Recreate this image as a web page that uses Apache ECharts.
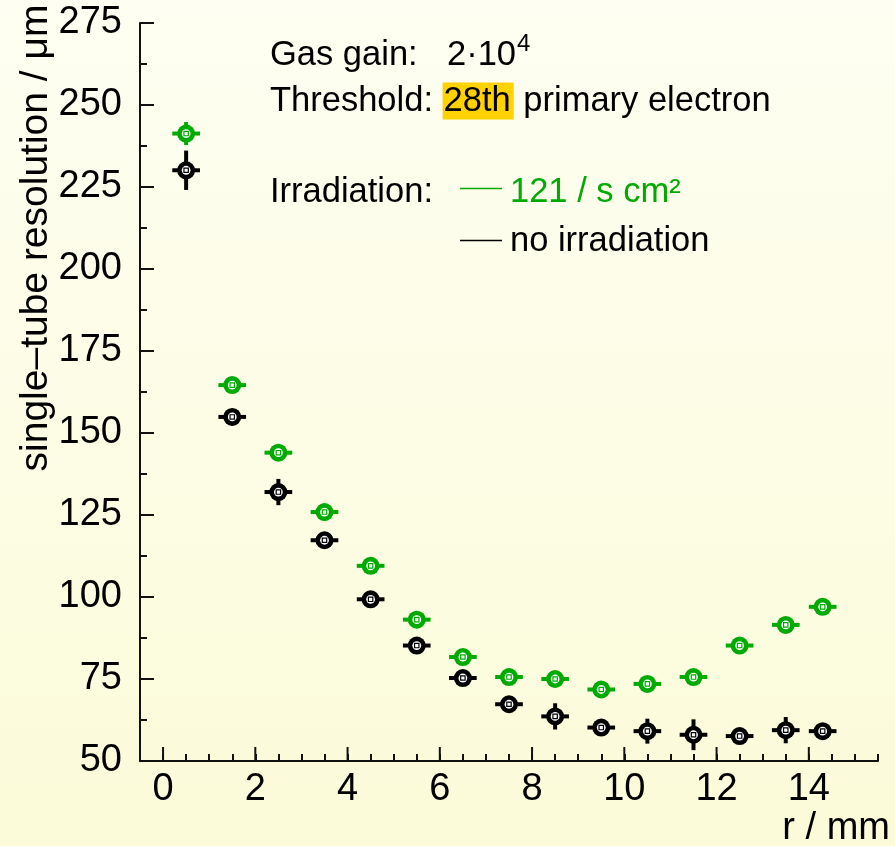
<!DOCTYPE html>
<html>
<head>
<meta charset="utf-8">
<script src="https://cdn.jsdelivr.net/npm/echarts@6/dist/echarts.min.js"></script>
<style>
  html, body { margin: 0; padding: 0; }
  #chart { width: 895px; height: 846px; }
</style>
</head>
<body>
<div id="chart"></div>
<script>
// Drift radius bins (mm)
const radius = [0.5, 1.5, 2.5, 3.5, 4.5, 5.5, 6.5, 7.5, 8.5, 9.5, 10.5, 11.5, 12.5, 13.5, 14.3];
// Half-width of each radius bin (mm)
const radiusErr = 0.3;

// Single-tube resolution (µm) with irradiation 121 / s cm²
const resIrradiated = [241.3, 164.6, 144.0, 125.9, 109.5, 93.1, 81.7, 75.6, 75.0, 71.8, 73.5, 75.6, 85.2, 91.5, 97.0];
const resIrradiatedErr = [3.5, 1.5, 1.5, 1.5, 1.5, 1.5, 1.5, 1.5, 1.5, 1.5, 1.5, 1.5, 1.5, 1.5, 1.5];

// Single-tube resolution (µm) without irradiation
const resPlain = [230.1, 154.9, 132.0, 117.3, 99.3, 85.2, 75.3, 67.3, 63.6, 60.2, 59.1, 58.0, 57.6, 59.4, 59.1];
const resPlainErr = [6.0, 2.0, 4.0, 2.0, 1.5, 1.5, 1.5, 1.5, 4.0, 2.5, 3.8, 4.7, 2.0, 4.0, 2.0];

// Labelled (major) ticks on the radius axis
const xMajorTicks = [0, 2, 4, 6, 8, 10, 12, 14];

const GREEN = '#00aa00';
const BLACK = '#000000';
const FONT = '"Liberation Sans", Arial, Helvetica, sans-serif';

function toRows(ys, errs) {
  return radius.map((r, i) => [r, ys[i], errs[i], radiusErr]);
}

// Error cross plus a ring marker with a small square in its centre
function errorMarker(color) {
  return function (params, api) {
    const x = api.value(0), y = api.value(1), ey = api.value(2), ex = api.value(3);
    const c = api.coord([x, y]);
    const l = api.coord([x - ex, y]);
    const r = api.coord([x + ex, y]);
    const t = api.coord([x, y + ey]);
    const b = api.coord([x, y - ey]);
    return {
      type: 'group',
      children: [
        { type: 'line', shape: { x1: l[0], y1: c[1], x2: r[0], y2: c[1] }, style: { stroke: color, lineWidth: 4 } },
        { type: 'line', shape: { x1: c[0], y1: t[1], x2: c[0], y2: b[1] }, style: { stroke: color, lineWidth: 4 } },
        { type: 'circle', shape: { cx: c[0], cy: c[1], r: 9 }, style: { fill: color } },
        { type: 'circle', shape: { cx: c[0], cy: c[1], r: 4.4 }, style: { fill: '#ffffff' } },
        { type: 'rect', shape: { x: c[0] - 2.2, y: c[1] - 2.2, width: 4.4, height: 4.4 }, style: { fill: '#ffffff', stroke: color, lineWidth: 1.2 } }
      ]
    };
  };
}

const chart = echarts.init(document.getElementById('chart'), null, { renderer: 'canvas' });

chart.setOption({
  animation: false,
  backgroundColor: {
    type: 'linear', x: 0, y: 0, x2: 0, y2: 1,
    colorStops: [{ offset: 0, color: '#fefef2' }, { offset: 1, color: '#fbfbd9' }]
  },
  grid: { left: 140, right: 17, top: 23, bottom: 85, containLabel: false },
  xAxis: {
    type: 'value',
    min: -0.5, max: 15.5, interval: 0.5,
    axisLine: { onZero: false, lineStyle: { color: '#111', width: 2 } },
    axisTick: { inside: true, length: 7, lineStyle: { color: '#111', width: 2 } },
    axisLabel: {
      margin: 10,
      fontFamily: FONT, fontSize: 38, color: '#000',
      formatter: v => (xMajorTicks.indexOf(v) >= 0 ? String(v) : '')
    },
    splitLine: { show: false }
  },
  yAxis: {
    type: 'value',
    min: 50, max: 275, interval: 25,
    axisLine: { show: true, onZero: false, lineStyle: { color: '#111', width: 2 } },
    axisTick: { show: true, inside: true, length: 14, lineStyle: { color: '#111', width: 2 } },
    minorTick: { show: true, splitNumber: 2, length: 7, lineStyle: { color: '#111', width: 2 } },
    axisLabel: { margin: 18, fontFamily: FONT, fontSize: 38, color: '#000' },
    splitLine: { show: false }
  },
  series: [
    {
      name: 'major ticks',
      type: 'custom',
      silent: true,
      clip: false,
      data: xMajorTicks.map(v => [v]),
      renderItem: function (params, api) {
        const p = api.coord([api.value(0), 50]);
        return { type: 'line', shape: { x1: p[0], y1: p[1], x2: p[0], y2: p[1] - 14 }, style: { stroke: '#111', lineWidth: 2 } };
      }
    },
    {
      name: 'no irradiation',
      type: 'custom',
      data: toRows(resPlain, resPlainErr),
      renderItem: errorMarker(BLACK),
      z: 3
    },
    {
      name: '121 / s cm²',
      type: 'custom',
      data: toRows(resIrradiated, resIrradiatedErr),
      renderItem: errorMarker(GREEN),
      z: 4
    }
  ],
  graphic: [
    { type: 'text', x: 36, y: 238, rotation: Math.PI / 2,
      style: { text: 'single–tube resolution / μm', font: '39px ' + FONT, fill: '#000', align: 'center', verticalAlign: 'middle' } },
    { type: 'text', x: 890, y: 829,
      style: { text: 'r / mm', font: '38px ' + FONT, fill: '#000', align: 'right', verticalAlign: 'middle' } },
    { type: 'text', x: 270, y: 55,
      style: { text: 'Gas gain:', font: '34.5px ' + FONT, fill: '#000', verticalAlign: 'middle' } },
    { type: 'text', x: 447, y: 55,
      style: { text: '2·10', font: '34.5px ' + FONT, fill: '#000', verticalAlign: 'middle' } },
    { type: 'text', x: 517, y: 44,
      style: { text: '4', font: '24px ' + FONT, fill: '#000', verticalAlign: 'middle' } },
    { type: 'text', x: 270, y: 101,
      style: {
        text: 'Threshold: {hl|28th} primary electron',
        font: '34.5px ' + FONT, fill: '#000', verticalAlign: 'middle',
        rich: { hl: { backgroundColor: '#ffd200', fontSize: 34.5, fontFamily: FONT, padding: [1, 3, 1, 1] } }
      } },
    { type: 'text', x: 270, y: 192,
      style: { text: 'Irradiation:', font: '34.5px ' + FONT, fill: '#000', verticalAlign: 'middle' } },
    { type: 'line', shape: { x1: 460, y1: 188.5, x2: 502, y2: 188.5 }, style: { stroke: GREEN, lineWidth: 1.5 } },
    { type: 'text', x: 510, y: 192,
      style: { text: '121 / s cm²', font: '34.5px ' + FONT, fill: GREEN, verticalAlign: 'middle' } },
    { type: 'line', shape: { x1: 460, y1: 240.5, x2: 502, y2: 240.5 }, style: { stroke: BLACK, lineWidth: 1.5 } },
    { type: 'text', x: 510, y: 241,
      style: { text: 'no irradiation', font: '34.5px ' + FONT, fill: '#000', verticalAlign: 'middle' } }
  ]
});
</script>
</body>
</html>
